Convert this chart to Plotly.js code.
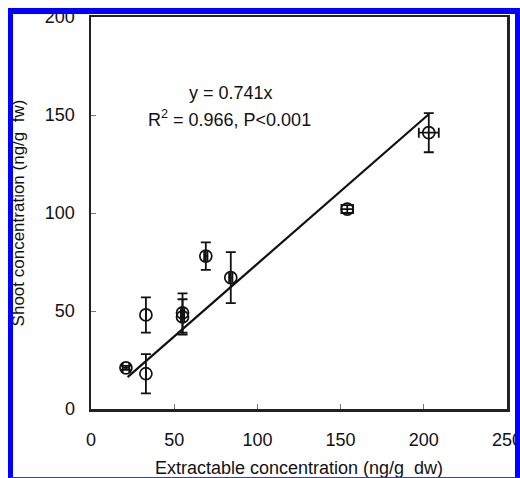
<!DOCTYPE html>
<html>
<head>
<meta charset="utf-8">
<script src="https://cdn.plot.ly/plotly-3.0.1.min.js"></script>
<style>
  html, body { margin: 0; padding: 0; background: #ffffff; }
  #wrap { position: relative; width: 520px; height: 478px; overflow: hidden; }
  #chart { position: absolute; left: 0; top: 0; width: 550px; height: 478px; }
  #frame { position: absolute; left: 8px; top: 8px; width: 502px; height: 463px;
           border-top: 6px solid #0000ff; border-left: 5px solid #0000ff;
           border-right: 5px solid #0000ff; border-bottom: 1px solid #3333ff;
           pointer-events: none; z-index: 10; }
</style>
</head>
<body>
<div id="wrap">
  <div id="chart"></div>
  <div id="frame"></div>
</div>
<script>
// Data
const extractable = [21, 33, 33, 55, 55, 69, 84, 154, 203];
const shoot       = [21, 18, 48, 47, 49, 78, 67, 102, 141];
const shootErr    = [1, 10, 9, 9, 10, 7, 13, 2, 10];
const extractErr  = [2, 0, 0, 1, 1, 1, 1, 3.5, 6];

// Regression line endpoints (y = 0.741x)
const fitX = [22, 203];
const fitY = [16.3, 150.4];

const xTicks = [0, 50, 100, 150, 200, 250];
const yTicks = [0, 50, 100, 150, 200];

const eqText = "y = 0.741x";
const r2Text = "R<sup>2</sup> = 0.966, P<0.001";

const fontFam = "Liberation Sans, Arial, sans-serif";
const ink = "#111111";

const traces = [
  {
    x: fitX, y: fitY, type: "scatter", mode: "lines",
    line: { color: "#111111", width: 2.2 }, hoverinfo: "skip", showlegend: false
  },
  {
    x: extractable, y: shoot, type: "scatter", mode: "markers",
    marker: { symbol: "circle-open", size: 12, color: "#111111", line: { width: 1.7, color: "#111111" } },
    error_y: { type: "data", array: shootErr, visible: true, color: "#111111", thickness: 1.8, width: 5 },
    error_x: { type: "data", array: extractErr, visible: true, color: "#111111", thickness: 1.8, width: 5 },
    showlegend: false
  }
];

const layout = {
  width: 550, height: 478,
  margin: { l: 91, r: 43, t: 17, b: 69, pad: 0 },
  paper_bgcolor: "rgba(0,0,0,0)",
  plot_bgcolor: "#ffffff",
  font: { family: fontFam, color: ink, size: 18 },
  showlegend: false,
  xaxis: {
    range: [0, 250], tickmode: "array", tickvals: xTicks,
    ticks: "inside", ticklen: 5, tickwidth: 1, tickcolor: "#777",
    showline: true, linecolor: "#222", linewidth: 2.5, mirror: true,
    showgrid: false, zeroline: false,
    tickfont: { family: fontFam, size: 18, color: ink },
    ticklabelstandoff: 13,
    title: { text: "Extractable concentration (ng/g\u00a0\u00a0dw)", font: { family: fontFam, size: 18, color: ink }, standoff: 20 }
  },
  yaxis: {
    range: [0, 200], tickmode: "array", tickvals: yTicks,
    ticks: "inside", ticklen: 5, tickwidth: 1, tickcolor: "#777",
    showline: true, linecolor: "#222", linewidth: 2.5, mirror: true,
    showgrid: false, zeroline: false,
    tickfont: { family: fontFam, size: 18, color: ink },
    ticklabelstandoff: 10,
    title: { text: "Shoot concentration (ng/g\u00a0\u00a0fw)", font: { family: fontFam, size: 17, color: ink }, standoff: 16 }
  },
  annotations: [
    { x: 0.336, y: 0.805, xref: "paper", yref: "paper", text: eqText, showarrow: false,
      font: { family: fontFam, size: 18, color: ink }, xanchor: "center", yanchor: "middle" },
    { x: 0.332, y: 0.74, xref: "paper", yref: "paper", text: r2Text, showarrow: false,
      font: { family: fontFam, size: 18, color: ink }, xanchor: "center", yanchor: "middle" }
  ]
};

Plotly.newPlot("chart", traces, layout, { displayModeBar: false, staticPlot: true });
</script>
</body>
</html>
